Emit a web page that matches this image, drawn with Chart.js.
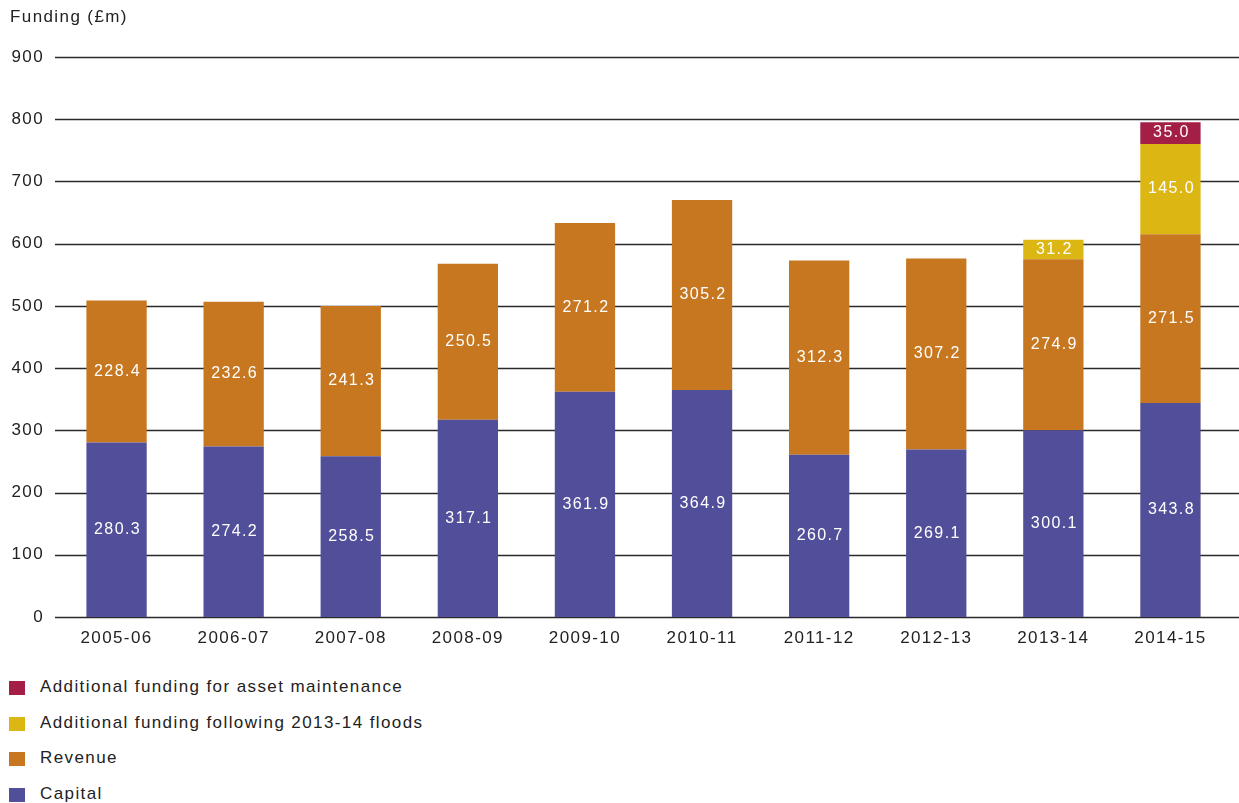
<!DOCTYPE html>
<html>
<head>
<meta charset="utf-8">
<script src="https://cdn.jsdelivr.net/npm/chart.js@4"></script>
<style>
  body { margin: 0; background: #fff; font-family: "Liberation Sans", Arial, sans-serif; }
  #wrap { position: relative; width: 1239px; height: 803px; }
  #grafico-box { position: absolute; left: 0; top: 0; width: 1239px; height: 660px; }
  #titulo { position: absolute; left: 10px; top: 7px; font-size: 17px; letter-spacing: 1.4px; color: #222; }
  #legenda { position: absolute; left: 9px; top: 677px; font-size: 17px; letter-spacing: 1.4px; color: #222; }
  .item { height: 35.7px; display: flex; align-items: flex-start; }
  .cx { width: 16px; height: 14px; margin-right: 15px; margin-top: 4px; }
</style>
</head>
<body>
<div id="wrap">
  <div id="grafico-box"><canvas id="grafico"></canvas></div>
  <div id="titulo">Funding (£m)</div>
  <div id="legenda"></div>
</div>
<script>
const anos = ['2005-06', '2006-07', '2007-08', '2008-09', '2009-10', '2010-11', '2011-12', '2012-13', '2013-14', '2014-15'];
const capital = [280.3, 274.2, 258.5, 317.1, 361.9, 364.9, 260.7, 269.1, 300.1, 343.8];
const receita = [228.4, 232.6, 241.3, 250.5, 271.2, 305.2, 312.3, 307.2, 274.9, 271.5];
const cheias = [null, null, null, null, null, null, null, null, 31.2, 145.0];
const manutencao = [null, null, null, null, null, null, null, null, null, 35.0];
const ticksY = [0, 100, 200, 300, 400, 500, 600, 700, 800, 900];

const series = [
    { label: 'Capital', data: capital, cor: '#524f9a' },
    { label: 'Revenue', data: receita, cor: '#c77720' },
    { label: 'Additional funding following 2013-14 floods', data: cheias, cor: '#dcb714' },
    { label: 'Additional funding for asset maintenance', data: manutencao, cor: '#a41f45' }
];

const fonte = '"Liberation Sans", Arial, sans-serif';

// legenda em html, ordem invertida como no original
const legenda = document.getElementById('legenda');
series.slice().reverse().forEach(s => {
    const div = document.createElement('div');
    div.className = 'item';
    div.innerHTML = `<span class="cx" style="background:${s.cor}"></span><span>${s.label}</span>`;
    legenda.appendChild(div);
});

// texto do original é mais espaçado
const espacoPlugin = {
    id: 'espaco',
    beforeDraw(chart) {
        chart.ctx.letterSpacing = '1.4px';
    }
};

// linhas de grade horizontais que vão até a borda
const gradePlugin = {
    id: 'grade',
    beforeDatasetsDraw(chart) {
        const ctx = chart.ctx;
        const y = chart.scales.y;
        ctx.save();
        ctx.strokeStyle = '#2a2a2a';
        ctx.lineWidth = 1.7;
        ticksY.forEach(v => {
            const py = Math.round(y.getPixelForValue(v)) + 0.5;
            ctx.beginPath();
            ctx.moveTo(55, py);
            ctx.lineTo(chart.width, py);
            ctx.stroke();
        });
        ctx.restore();
    }
};

// rótulos brancos no meio de cada segmento
const rotulosPlugin = {
    id: 'rotulos',
    afterDatasetsDraw(chart) {
        const ctx = chart.ctx;
        ctx.save();
        ctx.fillStyle = '#fff';
        ctx.font = '16px ' + fonte;
        ctx.textAlign = 'center';
        ctx.textBaseline = 'middle';
        chart.data.datasets.forEach((ds, i) => {
            chart.getDatasetMeta(i).data.forEach((bar, j) => {
                const v = ds.data[j];
                if (v == null) return;
                ctx.fillText(v.toFixed(1), bar.x + 1, (bar.y + bar.base) / 2);
            });
        });
        ctx.restore();
    }
};

new Chart(document.getElementById('grafico').getContext('2d'), {
    type: 'bar',
    data: {
        labels: anos,
        datasets: series.map(s => ({
            label: s.label,
            data: s.data,
            backgroundColor: s.cor,
            borderWidth: 0,
            categoryPercentage: 1,
            barPercentage: 0.515
        }))
    },
    options: {
        responsive: true,
        maintainAspectRatio: false,
        animation: false,
        layout: { padding: { top: 57, right: 10, left: 0, bottom: 0 } },
        plugins: {
            legend: { display: false },
            tooltip: { enabled: false }
        },
        scales: {
            x: {
                stacked: true,
                grid: { display: false },
                border: { display: false },
                ticks: { color: '#222', font: { size: 17, family: fonte }, padding: 3, maxRotation: 0 },
                afterFit: scale => { scale.height = 43; }
            },
            y: {
                stacked: true,
                min: 0,
                max: 900,
                grid: { display: false },
                border: { display: false },
                ticks: { stepSize: 100, color: '#222', font: { size: 17, family: fonte }, padding: 6 },
                afterFit: scale => { scale.width = 58; }
            }
        }
    },
    plugins: [espacoPlugin, gradePlugin, rotulosPlugin]
});
</script>
</body>
</html>
